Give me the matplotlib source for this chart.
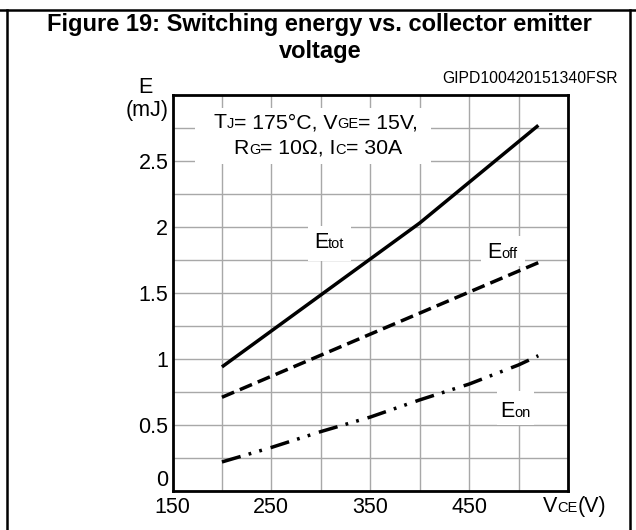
import matplotlib
matplotlib.use("Agg")
import matplotlib.pyplot as plt
import numpy as np
from matplotlib.transforms import offset_copy, IdentityTransform, Bbox
from matplotlib.patches import Rectangle
from matplotlib.lines import Line2D

plt.rcParams['font.family'] = ['Liberation Sans', 'DejaVu Sans']
plt.rcParams['lines.scale_dashes'] = False

# data
vce_tot = [200, 400, 520]
e_tot = [0.94, 2.03, 2.77]
vce_off = [200, 520]
e_off = [0.71, 1.73]
vce_on = [200, 250, 300, 350, 400, 450, 500, 520]
e_on = [0.22, 0.33, 0.45, 0.56, 0.69, 0.81, 0.955, 1.025]

x_ticks = [150, 250, 350, 450]
y_ticks = [0, 0.5, 1, 1.5, 2, 2.5]
y_ticklabels = ['0', '0.5', '1', '1.5', '2', '2.5']

W, H = 636, 530
FS = 15.5
SUB = 10.5

fig = plt.figure(figsize=(W / 100, H / 100), dpi=100)
ax = fig.add_axes([172.5 / W, 1 - 491 / H, (568 - 172.5) / W, (491 - 95) / H])
ax.set_xlim(150, 550)
ax.set_ylim(0, 3)
ax.set_xticks(x_ticks)
ax.set_xticks(np.arange(150, 551, 50), minor=True)
ax.set_yticks(y_ticks)
ax.set_yticklabels(y_ticklabels)
ax.set_yticks(np.arange(0, 2.8, 0.25), minor=True)
ax.grid(True, which='both', color='#a8a8a8', lw=1.0)
ax.set_axisbelow(True)
ax.tick_params(which='both', length=0, labelsize=FS)
ax.tick_params(axis='x', pad=4.0)
ax.tick_params(axis='y', pad=3.0)
for s in ax.spines.values():
    s.set_linewidth(2.0)
ax.yaxis.get_major_ticks()[0].label1.set_verticalalignment('bottom')

ax.plot(vce_tot, e_tot, color='k', lw=2.5, solid_capstyle='butt')
ax.plot(vce_off, e_off, color='k', lw=2.5, linestyle=(0, (9.5, 4.5)))
ax.plot(vce_on, e_on, color='k', lw=2.5, linestyle=(0, (14, 6, 2, 6, 2, 6.5)))


def rich(x, y, parts, trans, ha='left', pad=None, size=FS, sub=SUB):
    r = fig.canvas.get_renderer()
    items = []
    for s, small in parts:
        t = fig.text(x, y, s, transform=trans, fontsize=sub if small else size,
                     va='baseline', zorder=4)
        items.append(t)
    widths = [t.get_window_extent(r).width for t in items]
    total = sum(widths)
    start = {'left': 0, 'center': -total / 2, 'right': -total}[ha]
    for t, w in zip(items, widths):
        t.set_transform(offset_copy(trans, fig, x=start, y=0, units='dots'))
        start += w
    if pad is not None:
        bb = Bbox.union([t.get_window_extent(r) for t in items])
        fig.add_artist(Rectangle((bb.x0 - pad[0], bb.y0 - pad[1]),
                                 bb.width + pad[0] + pad[2], bb.height + pad[1] + pad[3],
                                 transform=IdentityTransform(), facecolor='white',
                                 edgecolor='none', zorder=2))
    return items


# conditions box
fig.canvas.draw()
l1 = rich(295, 2.75, [('T', 0), ('J', 1), ('= 175°C, V', 0), ('GE', 1), ('= 15V,', 0)],
          ax.transData, ha='center', size=15.3)
l2 = rich(297, 2.555, [('R', 0), ('G', 1), ('= 10Ω, I', 0), ('C', 1), ('= 30A', 0)],
          ax.transData, ha='center', size=15.3)
r = fig.canvas.get_renderer()
bb = Bbox.union([t.get_window_extent(r) for t in l1 + l2])
fig.add_artist(Rectangle((bb.x0 - 18, bb.y0 - 6), bb.width + 31, bb.height + 11,
                         transform=IdentityTransform(), facecolor='white',
                         edgecolor='none', zorder=2))

# curve labels
rich(293, 1.84, [('E', 0), ('tot', 1)], ax.transData, pad=(6, 8, 6, 6))
rich(468.2, 1.763, [('E', 0), ('off', 1)], ax.transData, pad=(6, 3, 8, 6))
rich(481.6, 0.563, [('E', 0), ('on', 1)], ax.transData, pad=(3, 3, 3, 10))

# axis labels
fig.text(145 / W, 1 - 93 / H, 'E', fontsize=FS, ha='center', va='baseline')
fig.text(147 / W, 1 - 116 / H, '(mJ)', fontsize=FS, ha='center', va='baseline')
rich(543 / W, 1 - 512 / H, [('V', 0), ('CE', 1), ('(V)', 0)], fig.transFigure)

# title and code
fig.text(319.5 / W, 1 - 31 / H, 'Figure 19: Switching energy vs. collector emitter',
         fontsize=17, fontweight='bold', ha='center', va='baseline')
fig.text(320 / W, 1 - 58 / H, 'voltage',
         fontsize=17, fontweight='bold', ha='center', va='baseline')
fig.text(618 / W, 1 - 83 / H, 'GIPD100420151340FSR', fontsize=11.3,
         ha='right', va='baseline')

# page frame
fig.add_artist(Line2D([0, 1], [1 - 10 / H] * 2, transform=fig.transFigure, color='k', lw=1.8))
fig.add_artist(Line2D([7 / W] * 2, [0, 1 - 10 / H], transform=fig.transFigure, color='k', lw=1.8))
fig.add_artist(Line2D([630 / W] * 2, [0, 1 - 10 / H], transform=fig.transFigure, color='k', lw=1.8))

fig.savefig('out.png', dpi=100)
